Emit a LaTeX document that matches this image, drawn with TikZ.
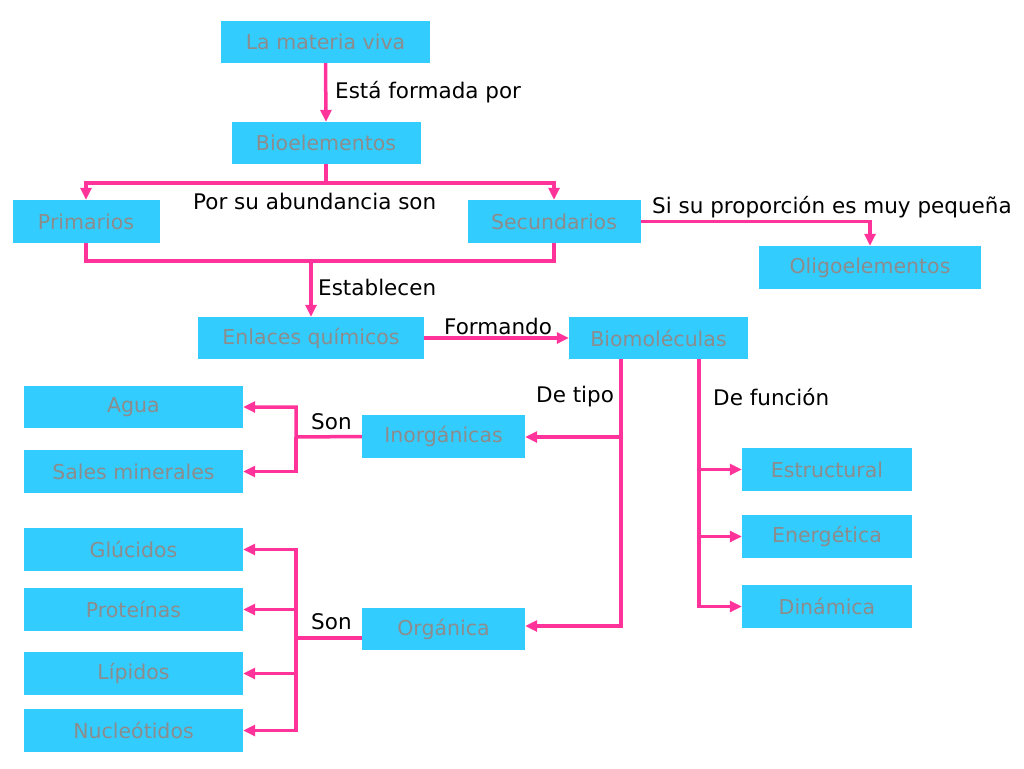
\documentclass[tikz,border=0pt]{standalone}
\usepackage{fontspec}
\setmainfont{DejaVu Sans}
\usetikzlibrary{arrows.meta}
\definecolor{boxblue}{HTML}{33CCFF}
\definecolor{boxtext}{HTML}{8C8C8C}
\definecolor{pinkline}{HTML}{FF3399}
\tikzset{
  box/.style={fill=boxblue, text=boxtext, inner sep=0pt, font=\fontsize{20.5}{22}\selectfont},
  conn/.style={draw=pinkline, line width=3.5pt},
  arr/.style={conn, -{Triangle[length=12pt,width=11pt]}},
  lbl/.style={anchor=west, inner sep=0pt, text=black, font=\fontsize{21.5}{24}\selectfont},
}
\begin{document}
\begin{tikzpicture}[x=1pt,y=-1pt]
\useasboundingbox (0,0) rectangle (1024,768);
\fill[white] (0,0) rectangle (1024,768);
% boxes
\node[box, minimum width=209pt, minimum height=42pt] (mv) at (325.5,42) {La materia viva};
\node[box, minimum width=189pt, minimum height=42pt] (bio) at (326,143) {Bioelementos};
\node[box, minimum width=147pt, minimum height=43pt] (prim) at (86,221.5) {Primarios};
\node[box, minimum width=173pt, minimum height=43pt] (sec) at (554,221.5) {Secundarios};
\node[box, minimum width=222pt, minimum height=43pt] (oli) at (870,267.5) {Oligoelementos};
\node[box, minimum width=226pt, minimum height=42pt] (enl) at (311,338) {Enlaces químicos};
\node[box, minimum width=179pt, minimum height=42pt] (biom) at (658.5,338) {Biomoléculas};
\node[box, minimum width=219pt, minimum height=42pt] (agua) at (133.5,407) {Agua};
\node[box, minimum width=219pt, minimum height=43pt] (sales) at (133.5,471.5) {Sales minerales};
\node[box, minimum width=163pt, minimum height=43pt] (inorg) at (443.5,436.5) {Inorgánicas};
\node[box, minimum width=219pt, minimum height=43pt] (glu) at (133.5,549.5) {Glúcidos};
\node[box, minimum width=219pt, minimum height=43pt] (pro) at (133.5,609.5) {Proteínas};
\node[box, minimum width=219pt, minimum height=43pt] (lip) at (133.5,673.5) {Lípidos};
\node[box, minimum width=219pt, minimum height=43pt] (nuc) at (133.5,730.5) {Nucleótidos};
\node[box, minimum width=163pt, minimum height=42pt] (org) at (443.5,629) {Orgánica};
\node[box, minimum width=170pt, minimum height=43pt] (est) at (827,469.5) {Estructural};
\node[box, minimum width=170pt, minimum height=43pt] (ene) at (827,536.5) {Energética};
\node[box, minimum width=170pt, minimum height=43pt] (din) at (827,606.5) {Dinámica};
% junction coordinates
\coordinate (b1) at (326,183);
\coordinate (p1) at (87,261);
\coordinate (e1) at (311,261);
\coordinate (t0) at (621,359);
\coordinate (t1) at (621,437);
\coordinate (t2) at (621,626);
\coordinate (f0) at (699,359);
\coordinate (s0) at (296,437);
\coordinate (o0) at (296,638);
% connectors
\draw[arr] (mv.south) -- (bio.north);
\draw[conn] (bio.south) -- (b1);
\draw[arr] (b1) -| (prim.north);
\draw[arr] (b1) -| (sec.north);
\draw[conn] (prim.south) |- (p1) -| (sec.south);
\draw[arr] (e1) -- (enl.north);
\draw[arr] (sec.east) -| (oli.north);
\draw[arr] (enl.east) -- (biom.west);
\draw[arr] (t0) |- (t2 -| org.east);
\draw[arr] (t1) -- (t1 -| inorg.east);
\draw[arr] (f0) |- (din.west);
\draw[arr] (f0 |- est.west) -- (est.west);
\draw[arr] (f0 |- ene.west) -- (ene.west);
\draw[arr] (inorg.west) -- (s0) |- (agua.east);
\draw[arr] (s0) |- (sales.east);
\draw[arr] (o0 -| org.west) -- (o0) |- (glu.east);
\draw[arr] (o0) |- (nuc.east);
\draw[arr] (o0 |- pro.east) -- (pro.east);
\draw[arr] (o0 |- lip.east) -- (lip.east);
% labels
\node[lbl] (l1) at (335,92) {Está formada por};
\node[lbl] (l2) at (193,201) {Por su abundancia son};
\node[lbl] (l3) at (652,207) {Si su proporción es muy pequeña};
\node[lbl] (l4) at (318,287) {Establecen};
\node[lbl] (l5) at (444,326) {Formando};
\node[lbl] (l6) at (536,397) {De tipo};
\node[lbl] (l7) at (713,397) {De función};
\node[lbl] (l8) at (311,422) {Son};
\node[lbl] (l9) at (311,622) {Son};
\end{tikzpicture}
\end{document}
